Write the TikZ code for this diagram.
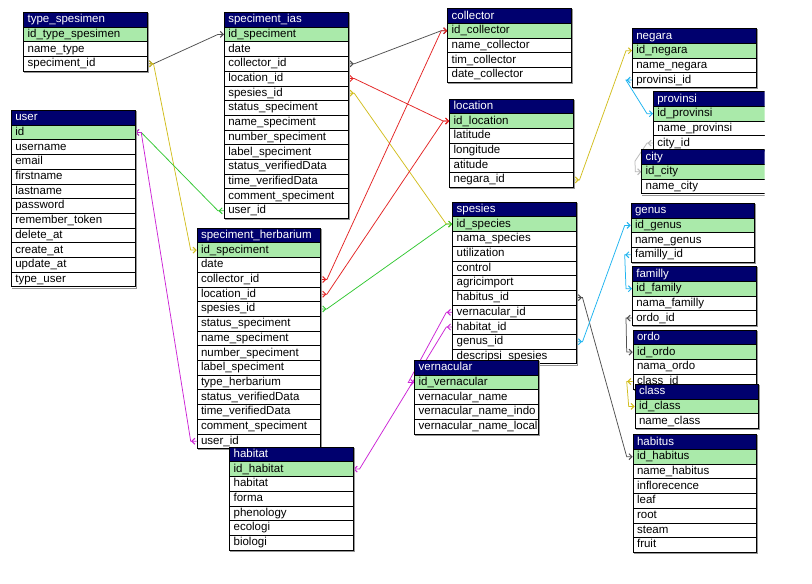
\documentclass[tikz,border=0pt]{standalone}
\usepackage{fontspec}
\setmainfont{Liberation Sans}
\usetikzlibrary{arrows.meta,decorations.markings}
\pgfdeclarelayer{paper}
\pgfdeclarelayer{background}
\pgfsetlayers{paper,background,main}
\definecolor{hdrblue}{RGB}{0,0,110}
\definecolor{keygreen}{RGB}{170,234,170}
\definecolor{cgray}{RGB}{80,80,80}
\definecolor{cred}{RGB}{228,36,36}
\definecolor{cyellow}{RGB}{210,190,30}
\definecolor{cgreen}{RGB}{50,200,50}
\definecolor{cmag}{RGB}{204,36,214}
\definecolor{ccyan}{RGB}{30,180,240}
\definecolor{csilver}{RGB}{185,185,185}
\definecolor{shadowgray}{RGB}{150,150,150}
\tikzset{
  cell/.style={draw=black, line width=0.7pt, rectangle, anchor=north west,
    minimum width=123.5pt, minimum height=14.7pt, text width=115.5pt,
    inner xsep=4pt, inner ysep=0pt, align=left, text height=8.4pt, text depth=2.4pt,
    font=\fontsize{11.5}{13}\selectfont},
  hdrcell/.style={cell, fill=hdrblue, text=white},
  keycell/.style={cell, fill=keygreen},
  rowcell/.style={cell, fill=white},
  shadowline/.style={draw=shadowgray, line width=1pt},
  tipend/.tip={Straight Barb[length=3pt,width=6pt,line width=1pt]},
  conn/.style={line width=0.75pt, -tipend, postaction={decorate},
    decoration={markings, mark=at position 5.5pt with {\arrow{tipend}}}}
}
% #1 name, #2 x, #3 y, #4 title, #5 rows, #6 number of rows
\newcommand{\ertable}[6]{%
  \node[hdrcell] (#1-0) at (#2,#3) {\mbox{#4}};
  \foreach \r [count=\i from 1] in {#5} {
    \ifnum\i=1
      \node[keycell] (#1-\i) at (#2,{#3+14.7*\i}) {\mbox{\r}};
    \else
      \node[rowcell] (#1-\i) at (#2,{#3+14.7*\i}) {\mbox{\r}};
    \fi
  }
  \draw[shadowline] ([shift={(1pt,-1pt)}]#1-0.north east) -- ([shift={(1pt,-1pt)}]#1-#6.south east) -- ([shift={(1pt,-1pt)}]#1-#6.south west);
}
\begin{document}
\begin{tikzpicture}[x=1pt,y=-1pt]
\useasboundingbox (0,0) rectangle (812,584);
\begin{pgfonlayer}{paper}
  \fill[white] (0,0) rectangle (812,584);
\end{pgfonlayer}

\ertable{ts}{23.3}{12}{type\_spesimen}{id\_type\_spesimen, name\_type, speciment\_id}{3}
\ertable{ias}{224}{12}{speciment\_ias}{id\_speciment, date, collector\_id, location\_id, spesies\_id, status\_speciment, name\_speciment, number\_speciment, label\_speciment, status\_verifiedData, time\_verifiedData, comment\_speciment, user\_id}{13}
\ertable{usr}{11}{110}{user}{id, username, email, firstname, lastname, password, remember\_token, delete\_at, create\_at, update\_at, type\_user}{11}
\ertable{col}{447.3}{8.3}{collector}{id\_collector, name\_collector, tim\_collector, date\_collector}{4}
\ertable{loc}{449.3}{98.7}{location}{id\_location, latitude, longitude, atitude, negara\_id}{5}
\ertable{neg}{632}{28.3}{negara}{id\_negara, name\_negara, provinsi\_id}{3}
\begin{scope}
  \clip (0,0) rectangle (764.5,584);
  \ertable{prov}{653}{91.3}{provinsi}{id\_provinsi, name\_provinsi, city\_id}{3}
  \ertable{city}{641.3}{149.3}{city}{id\_city, name\_city}{2}
\end{scope}
\ertable{herb}{196.7}{227.7}{speciment\_herbarium}{id\_speciment, date, collector\_id, location\_id, spesies\_id, status\_speciment, name\_speciment, number\_speciment, label\_speciment, type\_herbarium, status\_verifiedData, time\_verifiedData, comment\_speciment, user\_id}{14}
\ertable{hab}{229.3}{446.7}{habitat}{id\_habitat, habitat, forma, phenology, ecologi, biologi}{6}
\ertable{spe}{452.3}{201.7}{spesies}{id\_species, nama\_species, utilization, control, agricimport, habitus\_id, vernacular\_id, habitat\_id, genus\_id, descripsi\_spesies}{10}
\ertable{vern}{414.3}{360}{vernacular}{id\_vernacular, vernacular\_name, vernacular\_name\_indo, vernacular\_name\_local}{4}
\ertable{gen}{630.7}{203}{genus}{id\_genus, name\_genus, familly\_id}{3}
\ertable{fam}{632}{266.3}{familly}{id\_family, nama\_familly, ordo\_id}{3}
\ertable{ordo}{632.7}{329.7}{ordo}{id\_ordo, nama\_ordo, class\_id}{3}
\ertable{cls}{634.7}{384}{class}{id\_class, name\_class}{2}
\ertable{hbt}{632.7}{434.3}{habitus}{id\_habitus, name\_habitus, inflorecence, leaf, root, steam, fruit}{7}

\begin{pgfonlayer}{background}
\draw[conn, cgray] (ts-3.east) -- ++(6,0) -- ([xshift=-6pt]ias-1.west) -- (ias-1.west);
\draw[conn, cyellow] (ts-3.east) -- ++(6,0) -- ([xshift=-6pt]herb-1.west) -- (herb-1.west);
\draw[conn, cgray] (ias-3.east) -- ++(6,0) -- ([xshift=-6pt]col-1.west) -- (col-1.west);
\draw[conn, cred] (ias-4.east) -- ++(6,0) -- ([xshift=-6pt]loc-1.west) -- (loc-1.west);
\draw[conn, cyellow] (ias-5.east) -- ++(6,0) -- ([xshift=-6pt]spe-1.west) -- (spe-1.west);
\draw[conn, cgreen] (ias-13.west) -- ++(-6,0) -- ([xshift=6pt]usr-1.east) -- (usr-1.east);
\draw[conn, cmag] (herb-14.west) -- ++(-6,0) -- ([xshift=6pt]usr-1.east) -- (usr-1.east);
\draw[conn, cred] (herb-3.east) -- ++(6,0) -- ([xshift=-6pt]col-1.west) -- (col-1.west);
\draw[conn, cred] (herb-4.east) -- ++(6,0) -- ([xshift=-6pt]loc-1.west) -- (loc-1.west);
\draw[conn, cgreen] (herb-5.east) -- ++(6,0) -- ([xshift=-6pt]spe-1.west) -- (spe-1.west);
\draw[conn, cyellow] (loc-5.east) -- ++(6,0) -- ([xshift=-6pt]neg-1.west) -- (neg-1.west);
\draw[conn, ccyan] (neg-3.west) -- ++(-6,0) -- ([xshift=-6pt]prov-1.west) -- (prov-1.west);
\draw[conn, csilver] (prov-3.west) -- ++(-6,0) -- ++(-12,18) -- ([xshift=-6pt]city-1.west) -- (city-1.west);
\draw[conn, cgray] (spe-6.east) -- ++(6,0) -- ([xshift=-6pt]hbt-1.west) -- (hbt-1.west);
\draw[conn, ccyan] (spe-9.east) -- ++(6,0) -- ([xshift=-6pt]gen-1.west) -- (gen-1.west);
\draw[conn, ccyan] (gen-3.west) -- ++(-6,0) -- ([xshift=-6pt]fam-1.west) -- (fam-1.west);
\draw[conn, cgray] (fam-3.west) -- ++(-6,0) -- ([xshift=-6pt]ordo-1.west) -- (ordo-1.west);
\draw[conn, cyellow] (ordo-3.west) -- ++(-6,0) -- ([xshift=-6pt]cls-1.west) -- (cls-1.west);
\draw[conn, cmag] (spe-7.west) -- ++(-6,0) -- ([xshift=-6pt]vern-1.west) -- (vern-1.west);
\draw[conn, cmag] (spe-8.west) -- ++(-6,0) -- ([xshift=6pt]hab-1.east) -- (hab-1.east);
\end{pgfonlayer}
\end{tikzpicture}
\end{document}
